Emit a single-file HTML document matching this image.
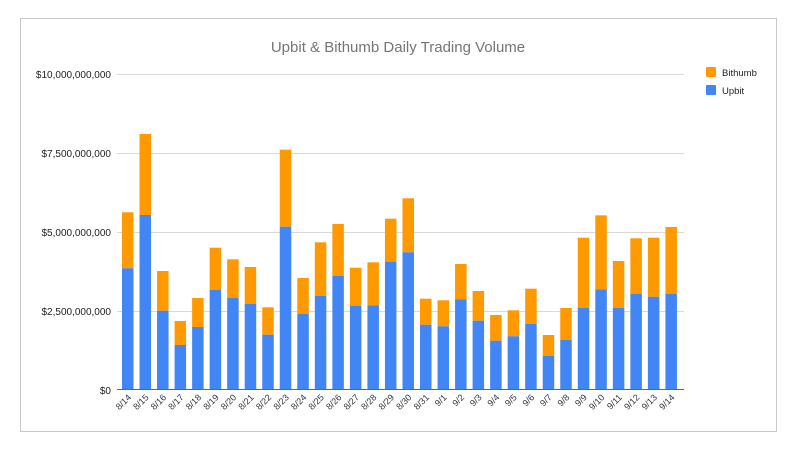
<!DOCTYPE html>
<html><head><meta charset="utf-8"><style>
html,body{margin:0;padding:0;background:#fff;width:800px;height:450px;overflow:hidden}
svg{display:block;font-family:"Liberation Sans",Arial,sans-serif}
</style></head><body>
<svg width="800" height="450" viewBox="0 0 800 450" xmlns="http://www.w3.org/2000/svg">
<rect x="20.5" y="18.5" width="756" height="413" fill="#fff" stroke="#c8c8c8"/>
<text x="398" y="52" text-anchor="middle" font-size="15" fill="#757575">Upbit &amp; Bithumb Daily Trading Volume</text>
<g stroke="#d9d9d9" stroke-width="1">
<line x1="117" x2="684" y1="74.5" y2="74.5"/>
<line x1="117" x2="684" y1="153.5" y2="153.5"/>
<line x1="117" x2="684" y1="232.5" y2="232.5"/>
<line x1="117" x2="684" y1="311.5" y2="311.5"/>
</g>
<g font-size="10" fill="#222" text-anchor="end">
<text x="111" y="78">$10,000,000,000</text>
<text x="111" y="157">$7,500,000,000</text>
<text x="111" y="236">$5,000,000,000</text>
<text x="111" y="315">$2,500,000,000</text>
<text x="111" y="394">$0</text>
</g>
<g id="bars"></g>
<line x1="117" x2="684" y1="389.5" y2="389.5" stroke="#666" stroke-width="1"/>
<g id="labels" font-size="9" fill="#333" text-anchor="end"></g>
<rect x="706" y="67" width="10" height="10" fill="#ff9900" rx="1"/>
<text x="722" y="76" font-size="9.5" fill="#222">Bithumb</text>
<rect x="706" y="85" width="10" height="10" fill="#4285f4" rx="1"/>
<text x="722" y="94" font-size="9.5" fill="#222">Upbit</text>
<script>
var d=[[212.3,268.3],[134,215],[271,310.7],[321,345],[298,327],[247.7,290],[259.3,297.7],[267,303.7],[307.3,334.7],[149.7,226.7],[278,313.7],[242.3,296],[224,275.7],[267.7,306],[262.3,305.3],[218.7,261.7],[198.3,252.3],[298.7,324.7],[300.3,326.3],[264,299.3],[291,320.7],[315,340.7],[310.3,336.3],[288.7,324],[335,355.7],[308,340],[237.7,308],[215.3,289.3],[261,308],[238.3,293.7],[237.7,296.7],[227,293.7]];
var lab=[];for(var i=14;i<=31;i++)lab.push("8/"+i);for(var i=1;i<=14;i++)lab.push("9/"+i);
var ns="http://www.w3.org/2000/svg",b=document.getElementById("bars"),L=document.getElementById("labels");
d.forEach(function(v,i){var x=122+i*17.53,w=11.5;
var o=document.createElementNS(ns,"rect");o.setAttribute("x",x);o.setAttribute("y",v[0]);o.setAttribute("width",w);o.setAttribute("height",v[1]-v[0]);o.setAttribute("fill","#ff9900");b.appendChild(o);
var u=document.createElementNS(ns,"rect");u.setAttribute("x",x);u.setAttribute("y",v[1]);u.setAttribute("width",w);u.setAttribute("height",389.5-v[1]);u.setAttribute("fill","#4285f4");b.appendChild(u);
var t=document.createElementNS(ns,"text");var cx=x+w/2+4,cy=398;t.setAttribute("x",cx);t.setAttribute("y",cy);t.setAttribute("transform","rotate(-45 "+cx+" "+cy+")");t.textContent=lab[i];L.appendChild(t);});
</script>
</svg>
</body></html>
